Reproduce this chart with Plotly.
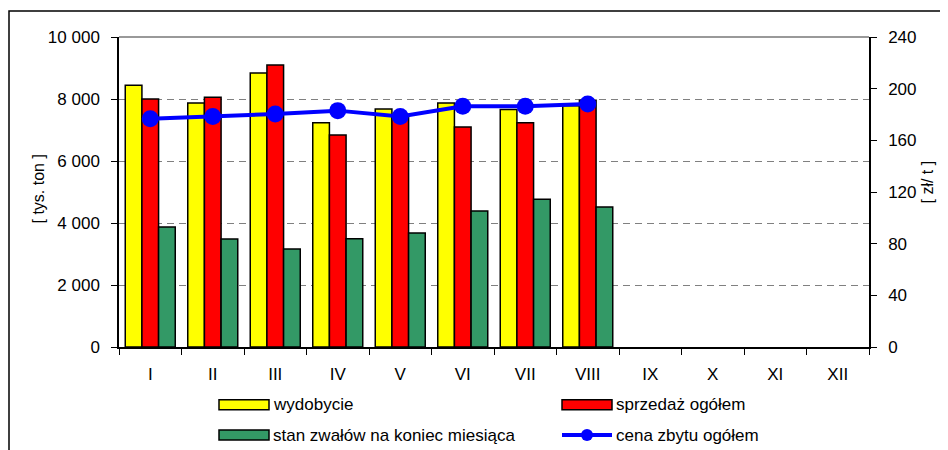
import plotly.graph_objects as go

# dane
miesiace = ["I", "II", "III", "IV", "V", "VI", "VII", "VIII", "IX", "X", "XI", "XII"]
wydobycie = [8440, 7870, 8840, 7230, 7680, 7870, 7660, 7780]
sprzedaz = [8000, 8060, 9100, 6840, 7500, 7100, 7230, 7960]
zwaly = [3870, 3480, 3160, 3490, 3680, 4390, 4770, 4520]
cena = [176.7, 178.5, 180.4, 183.0, 178.5, 186.3, 186.3, 188.1]

nazwy = ["wydobycie", "sprzedaż ogółem", "stan zwałów na koniec miesiąca", "cena zbytu ogółem"]
kolory = ["#FFFF00", "#FF0000", "#339966", "#0000FF"]

FONT = "Liberation Sans, Arial, sans-serif"
OFF = 8  # margines body strony html
W, H = 948 - OFF, 450 - OFF
L, R, T, B = 119 - OFF, 79, 37 - OFF, 103

# piksel strony -> paper
def px(x):
    return (x - OFF - L) / (W - L - R)

def py(y):
    return (H - B - (y - OFF)) / (H - T - B)

fig = go.Figure()
for nazwa, dane, kolor in zip(nazwy[:3], [wydobycie, sprzedaz, zwaly], kolory[:3]):
    fig.add_trace(go.Bar(x=miesiace[:len(dane)], y=dane, name=nazwa,
                         marker=dict(color=kolor, line=dict(color="black", width=1.5))))

fig.add_trace(go.Scatter(x=miesiace[:len(cena)], y=cena, name=nazwy[3], yaxis="y2",
                         mode="lines+markers",
                         line=dict(color=kolory[3], width=4),
                         marker=dict(color=kolory[3], size=17)))

fig.update_layout(
    width=W, height=H,
    margin=dict(l=L, r=R, t=T, b=B),
    paper_bgcolor="white", plot_bgcolor="white",
    font=dict(family=FONT, size=17, color="black"),
    separators=", ",
    barmode="group", bargap=0.2, bargroupgap=0,
    showlegend=False,
    xaxis=dict(type="category", categoryorder="array", categoryarray=miesiace,
               range=[-0.5, 11.5], tickson="boundaries", ticks="outside", ticklen=6,
               tickcolor="black", showline=True, linecolor="black", linewidth=1.5,
               showgrid=False, ticklabelstandoff=11),
    yaxis=dict(range=[0, 10000], dtick=2000, tickformat=",d", ticks="outside", ticklen=6,
               tickcolor="black", showline=True, linecolor="black", linewidth=1.5,
               showgrid=True, gridcolor="#808080", gridwidth=1, griddash="7px,5px",
               zeroline=False, ticklabelstandoff=8),
    yaxis2=dict(range=[0, 240], dtick=40, overlaying="y", side="right", ticks="outside",
                ticklen=6, tickcolor="black", showline=True, linecolor="black", linewidth=1.5,
                showgrid=False, zeroline=False, ticklabelstandoff=8),
    # krotkie kreski po wewnetrznej stronie prawej osi
    yaxis3=dict(range=[0, 240], dtick=40, overlaying="y", side="right", ticks="inside",
                ticklen=6, tickcolor="black", showticklabels=False, showline=False,
                showgrid=False, zeroline=False),
)

# gorna krawedz obszaru wykresu
fig.add_shape(type="line", xref="paper", yref="y domain", x0=0, x1=1, y0=1, y1=1,
              line=dict(color="#999999", width=2))
# ramka wykresu
fig.add_shape(type="rect", xref="paper", yref="paper", x0=px(9), x1=px(970), y0=py(480), y1=py(11),
              line=dict(color="black", width=1.5), fillcolor="rgba(0,0,0,0)", layer="below")

# tytuly osi
fig.add_annotation(text="[ tys. ton ]", xref="paper", yref="paper", x=px(27), y=py(189),
                   textangle=-90, showarrow=False, font=dict(size=16))
fig.add_annotation(text="[ zł/ t ]", xref="paper", yref="paper", x=px(937), y=py(182),
                   textangle=-90, showarrow=False, font=dict(size=16))

# legenda
pozycje = [(219, 404.7), (562, 404.7), (219, 435), (562, 435)]
for i, (nazwa, kolor) in enumerate(zip(nazwy, kolory)):
    x0, yc = pozycje[i]
    if i < 3:
        fig.add_shape(type="rect", xref="paper", yref="paper",
                      x0=px(x0), x1=px(x0 + 50), y0=py(yc + 5), y1=py(yc - 5),
                      fillcolor=kolor, line=dict(color="black", width=1.5))
    else:
        fig.add_shape(type="line", xref="paper", yref="paper",
                      x0=px(x0), x1=px(x0 + 50), y0=py(yc), y1=py(yc),
                      line=dict(color=kolor, width=4))
        fig.add_shape(type="circle", xref="paper", yref="paper",
                      x0=px(x0 + 19), x1=px(x0 + 31), y0=py(yc + 6), y1=py(yc - 6),
                      fillcolor=kolor, line=dict(color=kolor, width=0))
    fig.add_annotation(text=nazwa, xref="paper", yref="paper", x=px(x0 + 52), y=py(yc),
                       xanchor="left", yanchor="middle", showarrow=False, font=dict(size=17))

fig.write_html("out.html")
